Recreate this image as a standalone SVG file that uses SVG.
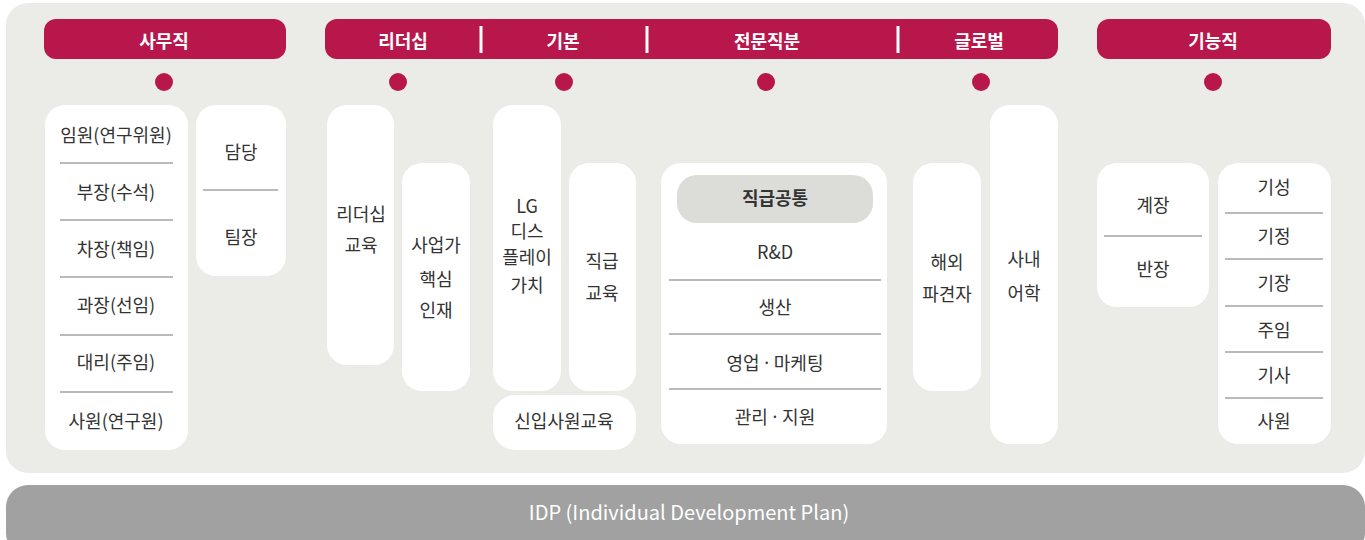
<svg xmlns="http://www.w3.org/2000/svg" width="1365" height="540" viewBox="0 0 1365 540">
<style>
.hdr{fill:#B8174C}
.hd{font-family:"Noto Sans CJK KR","Noto Sans",sans-serif;font-size:18px;font-weight:bold;fill:#fff;text-anchor:middle;dominant-baseline:central}
.box{fill:#fff}
.t{font-family:"Noto Sans CJK KR","Noto Sans",sans-serif;font-size:18px;fill:#333;text-anchor:middle;dominant-baseline:central}
.b{font-weight:bold}
.md{font-family:"Noto Sans",sans-serif}
.ln{stroke:#777;stroke-width:1.2}
.dot{fill:#B8174C}
.sep{stroke:#fff;stroke-width:3}
</style>
<rect x="6" y="3" width="1359" height="470" rx="22" fill="#EBEBE7"/>
<g id="idp">
<rect x="6" y="485" width="1359" height="70" rx="22" fill="#A0A1A0"/>
<text x="689" y="511" class="t" style="fill:#fff;font-size:20px">IDP (Individual Development Plan)</text>
</g>
<g id="headers">
<rect class="hdr" x="44" y="19" width="242" height="40" rx="12"/>
<text class="hd" x="164" y="40">사무직</text>
<rect class="hdr" x="325" y="19" width="733" height="40" rx="12"/>
<line class="sep" x1="481" y1="26" x2="481" y2="53"/>
<line class="sep" x1="647" y1="26" x2="647" y2="53"/>
<line class="sep" x1="898" y1="26" x2="898" y2="53"/>
<text class="hd" x="403" y="40">리더십</text>
<text class="hd" x="563" y="40">기본</text>
<text class="hd" x="767" y="40">전문직분</text>
<text class="hd" x="979" y="40">글로벌</text>
<rect class="hdr" x="1097" y="19" width="234" height="40" rx="12"/>
<text class="hd" x="1213" y="40">기능직</text>
</g>
<g id="dots">
<circle class="dot" cx="164" cy="82" r="9"/>
<circle class="dot" cx="398" cy="82" r="9"/>
<circle class="dot" cx="564" cy="82" r="9"/>
<circle class="dot" cx="766" cy="82" r="9"/>
<circle class="dot" cx="981" cy="82" r="9"/>
<circle class="dot" cx="1213" cy="82" r="9"/>
</g>
<g id="office-ranks">
<rect class="box" x="45" y="105" width="143" height="345" rx="20"/>
<text class="t" x="116" y="134">임원(연구위원)</text>
<line class="ln" x1="60" y1="163" x2="173" y2="163"/>
<text class="t" x="116" y="191">부장(수석)</text>
<line class="ln" x1="60" y1="220" x2="173" y2="220"/>
<text class="t" x="116" y="248">차장(책임)</text>
<line class="ln" x1="60" y1="277" x2="173" y2="277"/>
<text class="t" x="116" y="304">과장(선임)</text>
<line class="ln" x1="60" y1="335" x2="173" y2="335"/>
<text class="t" x="116" y="361">대리(주임)</text>
<line class="ln" x1="60" y1="392" x2="173" y2="392"/>
<text class="t" x="116" y="420">사원(연구원)</text>
</g>
<g id="office-roles">
<rect class="box" x="196" y="105" width="90" height="171" rx="20"/>
<text class="t" x="241" y="151">담당</text>
<line class="ln" x1="203" y1="190" x2="278" y2="190"/>
<text class="t" x="241" y="236">팀장</text>
</g>
<g id="leadership-edu">
<rect class="box" x="327" y="105" width="67" height="260" rx="20"/>
<text class="t" x="361" y="213">리더십</text>
<text class="t" x="361" y="244">교육</text>
</g>
<g id="business-talent">
<rect class="box" x="402" y="163" width="68" height="228" rx="20"/>
<text class="t" x="436" y="244">사업가</text>
<text class="t" x="436" y="278">핵심</text>
<text class="t" x="436" y="309">인재</text>
</g>
<g id="lg-value">
<rect class="box" x="493" y="105" width="68" height="286" rx="20"/>
<text class="t" x="527" y="205">LG</text>
<text class="t" x="527" y="230">디스</text>
<text class="t" x="527" y="256">플레이</text>
<text class="t" x="527" y="284">가치</text>
</g>
<g id="rank-edu">
<rect class="box" x="569" y="163" width="67" height="228" rx="20"/>
<text class="t" x="602" y="260">직급</text>
<text class="t" x="602" y="292">교육</text>
</g>
<g id="newhire">
<rect class="box" x="493" y="395" width="143" height="55" rx="22"/>
<text class="t" x="564" y="420">신입사원교육</text>
</g>
<g id="specialty">
<rect class="box" x="661" y="163" width="226" height="281" rx="20"/>
<rect x="677" y="175" width="196" height="48" rx="20" fill="#DCDCD8"/>
<text class="t b" x="775" y="197">직급공통</text>
<text class="t" x="775" y="251">R&amp;D</text>
<line class="ln" x1="669" y1="280" x2="881" y2="280"/>
<text class="t" x="775" y="306">생산</text>
<line class="ln" x1="669" y1="334" x2="881" y2="334"/>
<text class="t" x="775" y="362">영업<tspan class="md"> · </tspan>마케팅</text>
<line class="ln" x1="669" y1="389" x2="881" y2="389"/>
<text class="t" x="775" y="416">관리<tspan class="md"> · </tspan>지원</text>
</g>
<g id="overseas">
<rect class="box" x="913" y="163" width="68" height="228" rx="20"/>
<text class="t" x="947" y="261">해외</text>
<text class="t" x="947" y="293">파견자</text>
</g>
<g id="language">
<rect class="box" x="990" y="105" width="68" height="339" rx="20"/>
<text class="t" x="1024" y="258">사내</text>
<text class="t" x="1024" y="292">어학</text>
</g>
<g id="tech-roles">
<rect class="box" x="1097" y="163" width="112" height="144" rx="20"/>
<text class="t" x="1153" y="204">계장</text>
<line class="ln" x1="1104" y1="236" x2="1202" y2="236"/>
<text class="t" x="1153" y="268">반장</text>
</g>
<g id="tech-ranks">
<rect class="box" x="1218" y="163" width="113" height="281" rx="20"/>
<text class="t" x="1274" y="186">기성</text>
<line class="ln" x1="1225" y1="213" x2="1323" y2="213"/>
<text class="t" x="1274" y="235">기정</text>
<line class="ln" x1="1225" y1="259" x2="1323" y2="259"/>
<text class="t" x="1274" y="282">기장</text>
<line class="ln" x1="1225" y1="306" x2="1323" y2="306"/>
<text class="t" x="1274" y="329">주임</text>
<line class="ln" x1="1225" y1="352" x2="1323" y2="352"/>
<text class="t" x="1274" y="374">기사</text>
<line class="ln" x1="1225" y1="398" x2="1323" y2="398"/>
<text class="t" x="1274" y="420">사원</text>
</g>
<g id="connectors"></g>
</svg>
